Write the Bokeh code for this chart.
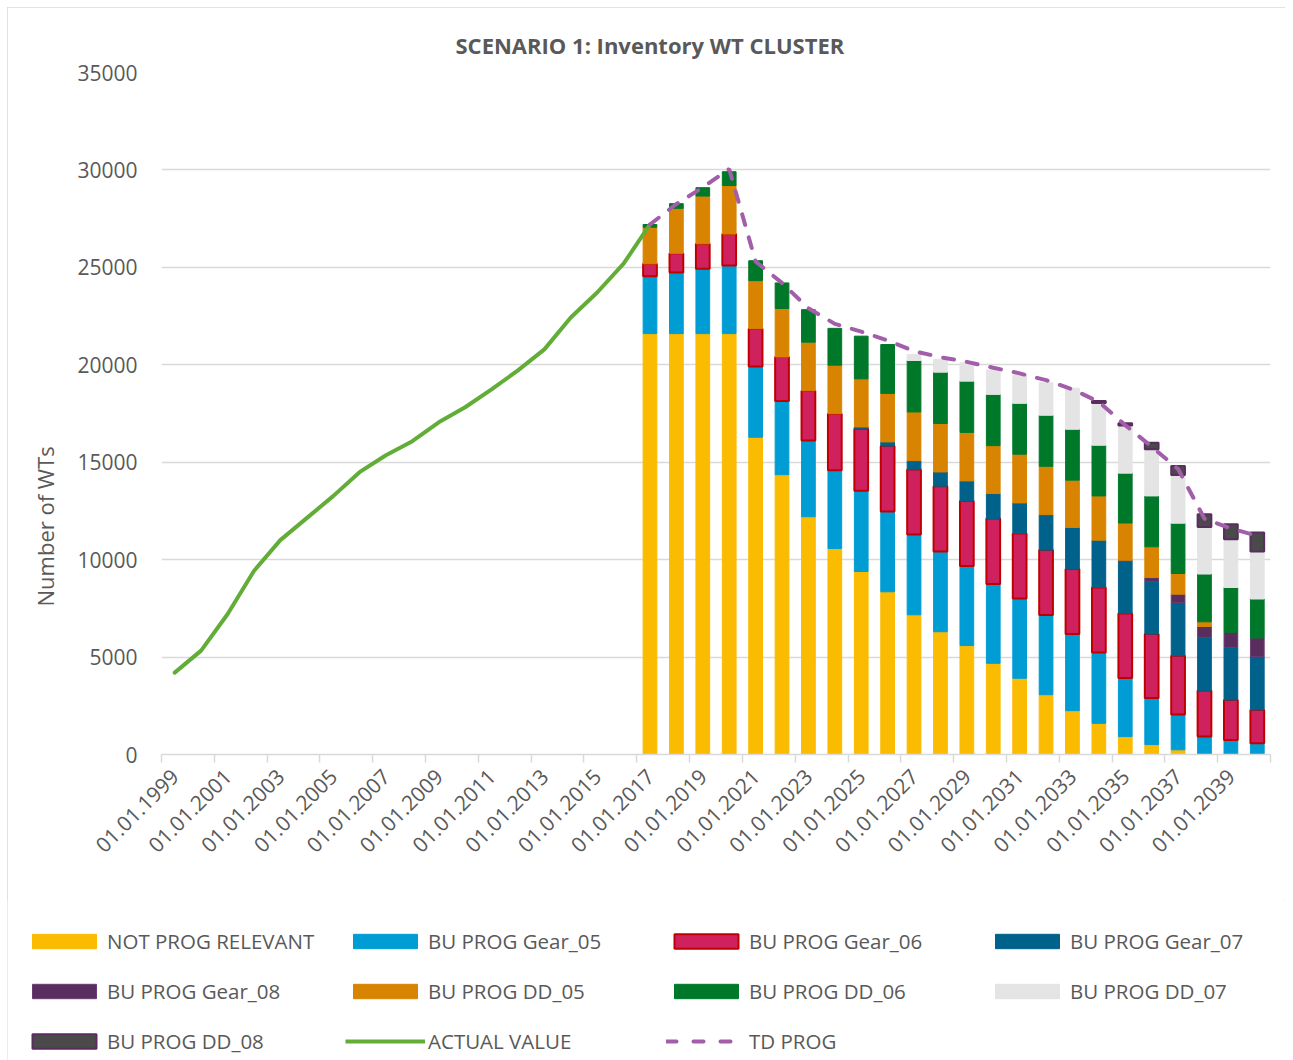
import numpy as np
from math import pi
from bokeh.plotting import figure
from bokeh.layouts import column
from bokeh.models import (Range1d, FixedTicker, LinearAxis, Legend, LegendItem, Title)
from bokeh.embed import file_html
from bokeh.resources import INLINE

# ---------------- data ----------------
actual_years = list(range(1999, 2018))
actual_value = [4200, 5330, 7200, 9420, 11000, 12130, 13260, 14490, 15360, 16080,
                17050, 17820, 18740, 19710, 20790, 22430, 23710, 25190, 27200]

prog_years = list(range(2017, 2041))
not_prog_relevant = [21600, 21600, 21600, 21600, 16280, 14360, 12200, 10570, 9390, 8350,
                     7170, 6300, 5590, 4680, 3910, 3070, 2250, 1600, 920, 510, 240, 0, 0, 0]
bu_gear_05 = [2950, 3140, 3330, 3500, 3630, 3780, 3920, 4020, 4140, 4120,
              4120, 4120, 4090, 4070, 4100, 4090, 3930, 3640, 3010, 2390, 1810, 920, 750, 580]
bu_gear_06 = [630, 980, 1280, 1610, 1940, 2260, 2550, 2900, 3190, 3360,
              3330, 3350, 3330, 3360, 3330, 3330, 3340, 3330, 3310, 3280, 3020, 2360, 2050, 1710]
bu_gear_07 = [0, 0, 0, 0, 0, 0, 0, 0, 90, 210,
              460, 730, 1030, 1280, 1570, 1820, 2130, 2430, 2670, 2700, 2730, 2730, 2700, 2730]
bu_gear_08 = [0, 0, 0, 0, 0, 0, 0, 0, 0, 0,
              0, 0, 0, 0, 0, 0, 0, 0, 60, 200, 430, 560, 770, 960]
bu_dd_05 = [1880, 2310, 2450, 2490, 2470, 2490, 2490, 2490, 2470, 2490,
            2500, 2490, 2490, 2460, 2500, 2480, 2430, 2270, 1910, 1580, 1060, 240, 0, 0]
bu_dd_06 = [140, 240, 430, 710, 1020, 1310, 1670, 1890, 2190, 2510,
            2640, 2630, 2630, 2630, 2610, 2620, 2610, 2600, 2560, 2610, 2580, 2450, 2300, 2000]
bu_dd_07 = [0, 0, 0, 0, 0, 0, 0, 0, 0, 0,
            310, 660, 940, 1250, 1450, 1670, 2110, 2170, 2440, 2390, 2480, 2420, 2480, 2440]
bu_dd_08 = [0, 0, 0, 0, 0, 0, 0, 0, 0, 0,
            0, 0, 0, 0, 0, 0, 0, 100, 120, 340, 460, 650, 770, 970]
td_prog = [27200, 28250, 29100, 30050, 25300, 24200, 22900, 22100, 21700, 21250,
           20700, 20390, 20150, 19850, 19560, 19210, 18740, 18100, 16900, 15800,
           14650, 12100, 11600, 11220]

series_names = ["NOT PROG RELEVANT", "BU PROG Gear_05", "BU PROG Gear_06", "BU PROG Gear_07",
                "BU PROG Gear_08", "BU PROG DD_05", "BU PROG DD_06", "BU PROG DD_07", "BU PROG DD_08"]
series_values = [not_prog_relevant, bu_gear_05, bu_gear_06, bu_gear_07,
                 bu_gear_08, bu_dd_05, bu_dd_06, bu_dd_07, bu_dd_08]

label_years = [1999, 2001, 2003, 2005, 2007, 2009, 2011, 2013, 2015, 2017, 2019,
               2021, 2023, 2025, 2027, 2029, 2031, 2033, 2035, 2037, 2039]
x_tick_labels = ["01.01.1999", "01.01.2001", "01.01.2003", "01.01.2005", "01.01.2007",
                 "01.01.2009", "01.01.2011", "01.01.2013", "01.01.2015", "01.01.2017",
                 "01.01.2019", "01.01.2021", "01.01.2023", "01.01.2025", "01.01.2027",
                 "01.01.2029", "01.01.2031", "01.01.2033", "01.01.2035", "01.01.2037",
                 "01.01.2039"]
y_ticks = [0, 5000, 10000, 15000, 20000, 25000, 30000, 35000]

# ---------------- styles ----------------
FONT = "Open Sans"
TXT = "#595959"
GRID = "#d9d9d9"
fills = ["#fbbb00", "#009dd5", "#cf215e", "#00618a", "#5a2d5f",
         "#d88400", "#00782a", "#e3e4e3", "#4a4a4a"]
borders = ["#fbbb00", "#009dd5", "#c00000", "#00618a", "#6a3d70",
           "#d88400", "#00782a", "#e3e4e3", "#5a2d5f"]
border_w = [1, 1, 2, 1, 1, 1, 1, 1, 2]
ACT_COLOR = "#62ad37"
TD_COLOR = "#a25ea9"

p = figure(width=1278, height=893, output_backend="svg", toolbar_location=None,
           x_range=Range1d(1998.5, 2040.5), y_range=Range1d(0, 35000),
           x_axis_type=None,
           min_border_left=154, min_border_right=15, min_border_top=65, min_border_bottom=146)
p.outline_line_color = None
p.background_fill_color = "white"
p.border_fill_color = "white"

# title
p.title.text = "SCENARIO 1: Inventory WT CLUSTER"
p.title.align = "left"
p.title.offset = 294
p.title.standoff = 26
p.title.text_font = FONT
p.title.text_font_size = "22px"
p.title.text_font_style = "bold"
p.title.text_color = TXT

# y axis & grid
p.yaxis.ticker = FixedTicker(ticks=y_ticks)
p.yaxis.axis_line_color = None
p.yaxis.major_tick_line_color = None
p.yaxis.minor_tick_line_color = None
p.yaxis.major_label_standoff = 18
p.yaxis.major_label_text_font = FONT
p.yaxis.major_label_text_font_size = "21px"
p.yaxis.major_label_text_color = TXT
p.ygrid.ticker = FixedTicker(ticks=y_ticks)
p.ygrid.grid_line_color = GRID
p.ygrid.grid_line_width = 1.5

# y axis title (placed like the original, below the frame centre)
p.add_layout(Title(text="Number of WTs", align="left", offset=148, standoff=30,
                   text_font=FONT, text_font_size="22px", text_font_style="normal",
                   text_color=TXT), "left")

# x axis: boundary ticks + centred date labels
boundaries = [y - 0.5 for y in range(1999, 2042, 2)]
ax1 = LinearAxis(ticker=FixedTicker(ticks=boundaries),
                 major_label_overrides={b: "" for b in boundaries},
                 major_label_text_font_size="0px", major_label_standoff=0,
                 axis_line_color=GRID, axis_line_width=1.5,
                 major_tick_line_color=GRID, major_tick_line_width=1.5,
                 major_tick_out=8, major_tick_in=0, minor_tick_line_color=None)
p.add_layout(ax1, "below")
ax2 = LinearAxis(ticker=FixedTicker(ticks=label_years),
                 major_label_overrides=dict(zip(label_years, x_tick_labels)),
                 major_label_orientation=pi / 4, major_label_standoff=4,
                 axis_line_color=None, major_tick_line_color=None, minor_tick_line_color=None,
                 major_label_text_font=FONT, major_label_text_font_size="21px",
                 major_label_text_color=TXT)
p.add_layout(ax2, "below")

# stacked bars
vals = np.array(series_values, dtype=float)
tops = np.cumsum(vals, axis=0)
bottoms = tops - vals
for i, name in enumerate(series_names):
    top_i = np.where(vals[i] > 0, tops[i], np.nan)
    p.vbar(x=prog_years, width=0.52, bottom=bottoms[i], top=top_i,
           fill_color=fills[i], line_color=borders[i], line_width=border_w[i])

p.line(actual_years, actual_value, line_color=ACT_COLOR, line_width=4,
       line_cap="round", line_join="round")
p.line(prog_years, td_prog, line_color=TD_COLOR, line_width=4,
       line_dash="11 13", line_cap="round")

# ---------------- legend panel ----------------
pleg = figure(width=1278, height=160, output_backend="svg", toolbar_location=None,
              x_range=Range1d(0, 1), y_range=Range1d(0, 1), x_axis_type=None, y_axis_type=None,
              min_border=0)
pleg.outline_line_color = None
pleg.xgrid.visible = False
pleg.ygrid.visible = False
for fig in (p, pleg):
    try:
        fig.frame_align = False
    except Exception:
        pass

# legend-only renderers (no visible marks: NaN placeholders carry the styles)
swatches = []
for i, name in enumerate(series_names):
    swatches.append(pleg.vbar(x=[np.nan], top=[np.nan], width=0.1, fill_color=fills[i],
                              line_color=borders[i], line_width=border_w[i]))
swatches.append(pleg.line(x=[np.nan, np.nan], y=[np.nan, np.nan], line_color=ACT_COLOR,
                          line_width=4, line_cap="butt"))
swatches.append(pleg.line(x=[np.nan, np.nan], y=[np.nan, np.nan], line_color=TD_COLOR,
                          line_width=4, line_dash="10 17", line_cap="round"))
names = series_names + ["ACTUAL VALUE", "TD PROG"]
legend = Legend(items=[LegendItem(label=n, renderers=[r]) for n, r in zip(names, swatches)],
                location=(17, 4), orientation="horizontal", ncols=4,
                glyph_width=80, glyph_height=18, label_standoff=3, label_width=218,
                label_height=30, spacing=20, padding=0, margin=0,
                border_line_color=None, background_fill_alpha=0,
                label_text_font=FONT, label_text_font_size="20.5px", label_text_color=TXT)
pleg.add_layout(legend)

lay = column(p, pleg, spacing=0)
lay.margin = (7, 0, 0, 7)
lay.styles = {"outline": "1.5px solid #d9d9d9", "outline-offset": "-1px"}

open("out.html", "w").write(file_html(lay, INLINE))
